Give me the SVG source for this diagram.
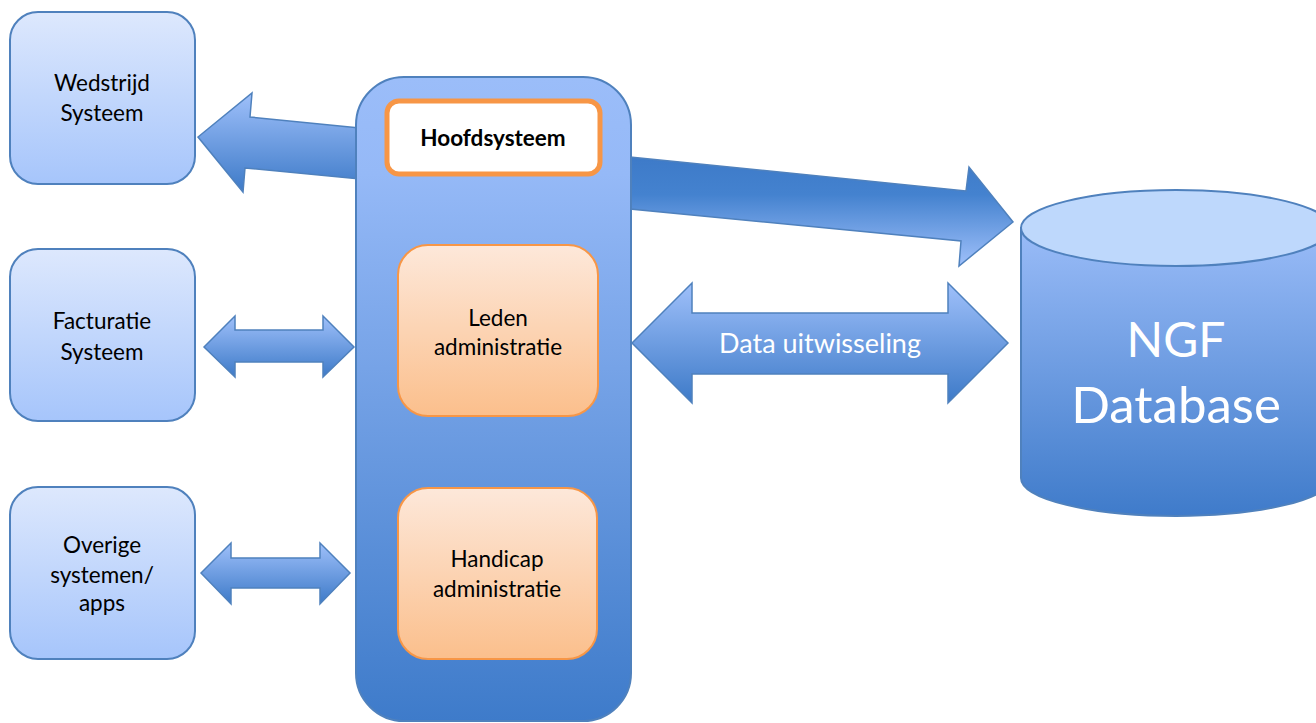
<svg xmlns="http://www.w3.org/2000/svg" width="1316" height="723" viewBox="0 0 1316 723">
<defs>
<linearGradient id="gSide" x1="0" y1="0" x2="0" y2="1"><stop offset="0" stop-color="#dde8fd"/><stop offset="1" stop-color="#a6c5fb"/></linearGradient>
<linearGradient id="gMain" x1="0" y1="0" x2="0" y2="1"><stop offset="0" stop-color="#9bbdf9"/><stop offset="0.15" stop-color="#95b9f7"/><stop offset="1" stop-color="#3e7bca"/></linearGradient>
<linearGradient id="gOrange" x1="0" y1="0" x2="0" y2="1"><stop offset="0" stop-color="#fde8da"/><stop offset="1" stop-color="#fbbf8c"/></linearGradient>
<linearGradient id="gDown" x1="0" y1="0" x2="0" y2="1"><stop offset="0" stop-color="#9fc0fa"/><stop offset="1" stop-color="#3d7ac8"/></linearGradient>
<linearGradient id="gUp" x1="0" y1="0" x2="0" y2="1"><stop offset="0" stop-color="#3d7ac8"/><stop offset="0.35" stop-color="#4482cf"/><stop offset="1" stop-color="#9fc0fa"/></linearGradient>
<linearGradient id="gCyl" x1="0" y1="0" x2="0" y2="1"><stop offset="0" stop-color="#9abcf8"/><stop offset="1" stop-color="#3f7bca"/></linearGradient>
</defs>
<style>
.side{fill:url(#gSide);stroke:#4f81bd;stroke-width:2}
.orange{fill:url(#gOrange);stroke:#f79646;stroke-width:2}
.arr{stroke:#4f81bd;stroke-width:1.5;stroke-linejoin:miter}
text{font-family:Lato,"Open Sans","Liberation Sans",sans-serif;text-anchor:middle}
.t{font-size:22.5px;fill:#000}
.w{fill:#fff}
</style>
<g id="connectors">
<polygon class="arr" fill="url(#gDown)" points="370,129 250,117 252,93 198,137 243,192 245,168 370,180"/>
<polygon class="arr" fill="url(#gUp)" points="620,156 966,191 969,167 1013,222 959,266 961,241 620,208"/>
<polygon class="arr" fill="url(#gDown)" points="632,343 692,283 692,313 948,313 948,283 1008,343 948,403 948,374 692,374 692,403"/>
<polygon class="arr" fill="url(#gDown)" points="204,347 235,316 235,330 323,330 323,316 354,347 323,377 323,362 235,362 235,377"/>
<polygon class="arr" fill="url(#gDown)" points="201,573 231,543 231,558 320,558 320,543 350,573 320,604 320,588 231,588 231,604"/>
<text class="w" x="820" y="353" font-size="27">Data uitwisseling</text>
</g>
<g id="wedstrijd">
<rect class="side" x="10" y="12" width="185" height="172" rx="28"/>
<text class="t" x="102" y="91">Wedstrijd</text>
<text class="t" x="102" y="121">Systeem</text>
</g>
<g id="facturatie">
<rect class="side" x="10" y="249" width="185" height="172" rx="28"/>
<text class="t" x="102" y="329">Facturatie</text>
<text class="t" x="102" y="360">Systeem</text>
</g>
<g id="overige">
<rect class="side" x="10" y="487" width="185" height="172" rx="28"/>
<text class="t" x="102" y="553">Overige</text>
<text class="t" x="102" y="583">systemen/</text>
<text class="t" x="102" y="611">apps</text>
</g>
<g id="hoofdsysteem">
<rect x="356" y="77" width="275" height="644" rx="48" fill="url(#gMain)" stroke="#4f81bd" stroke-width="2"/>
<rect x="387" y="101" width="213" height="73" rx="12" fill="#fff" stroke="#f79646" stroke-width="5"/>
<text class="t" x="493" y="146" font-size="22" font-weight="bold">Hoofdsysteem</text>
</g>
<g id="leden">
<rect class="orange" x="398" y="245" width="200" height="171" rx="30"/>
<text class="t" x="498" y="326">Leden</text>
<text class="t" x="498" y="355">administratie</text>
</g>
<g id="handicap">
<rect class="orange" x="398" y="488" width="199" height="171" rx="30"/>
<text class="t" x="497" y="567">Handicap</text>
<text class="t" x="497" y="597">administratie</text>
</g>
<g id="ngf">
<path d="M1021,228 L1021,478 A155,38 0 0 0 1331,478 L1331,228 Z" fill="url(#gCyl)" stroke="#4f81bd" stroke-width="2"/>
<ellipse cx="1176" cy="228" rx="155" ry="38" fill="#bed8fc" stroke="#4f81bd" stroke-width="2"/>
<text class="w" x="1176" y="357" font-size="48">NGF</text>
<text class="w" x="1176" y="423" font-size="51">Database</text>
</g>
</svg>
